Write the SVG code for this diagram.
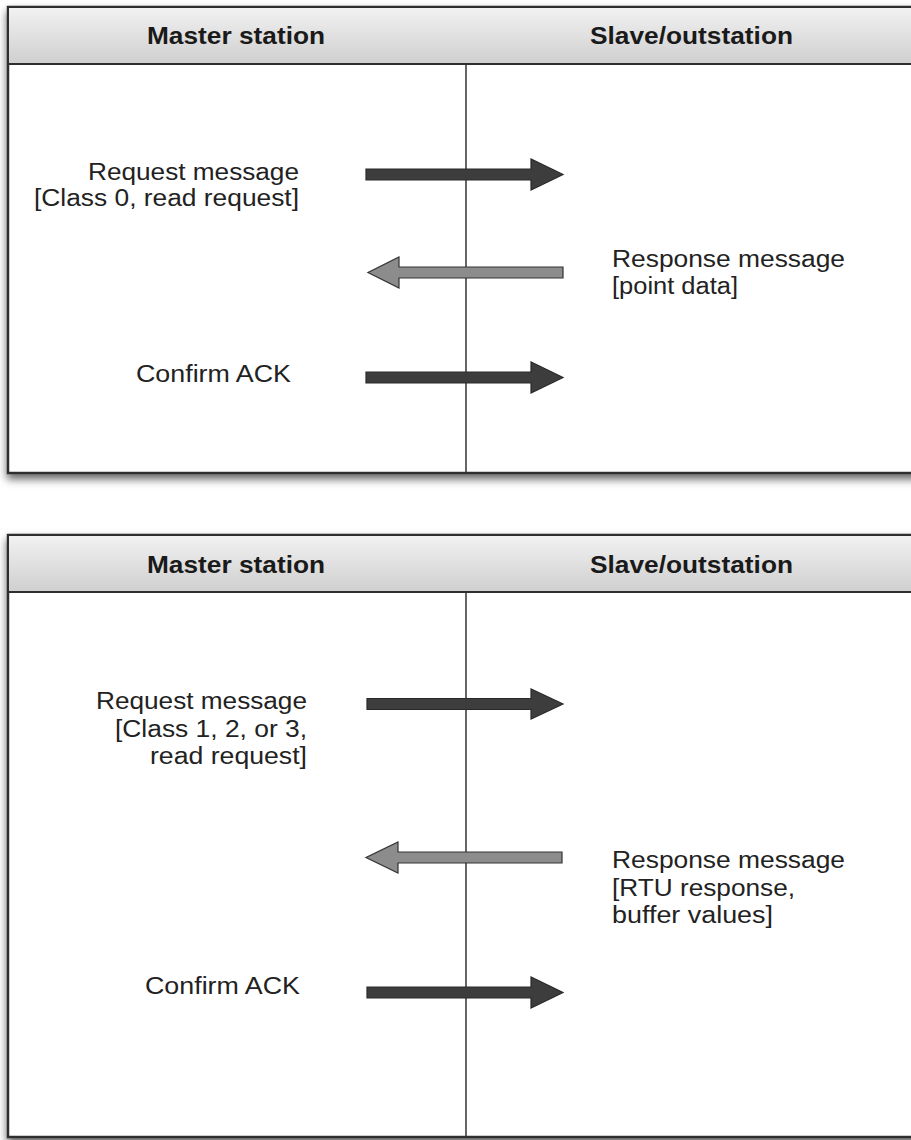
<svg xmlns="http://www.w3.org/2000/svg" width="911" height="1140" viewBox="0 0 911 1140">
<style>
.box{fill:#fff;stroke:#2e2e2e;stroke-width:2.5}
.hdr{fill:url(#hg);stroke:#2e2e2e;stroke-width:2}
.div{stroke:#333;stroke-width:1.5}
.ht{font-family:"Liberation Sans",Arial,sans-serif;font-weight:bold;font-size:24px;fill:#1a1a1a}
.t{font-family:"Liberation Sans",Arial,sans-serif;font-size:23px;fill:#222}
.dark{fill:#3d3d3d;stroke:#2a2a2a;stroke-width:1.2}
.light{fill:#8c8c8c;stroke:#333;stroke-width:1.2}
</style>
<defs>
<linearGradient id="hg" x1="0" y1="0" x2="0" y2="1">
<stop offset="0" stop-color="#f2f2f2"/>
<stop offset="1" stop-color="#cfcfcf"/>
</linearGradient>
<filter id="sh" x="-5%" y="-5%" width="110%" height="115%">
<feDropShadow dx="0" dy="5" stdDeviation="4" flood-color="#000" flood-opacity="0.6"/>
</filter>
</defs>

<g id="panel1">
<rect class="box" x="8" y="7" width="920" height="466" filter="url(#sh)"/>
<rect class="hdr" x="8" y="7" width="920" height="57"/>
<line class="div" x1="466" y1="64" x2="466" y2="472"/>
</g>
<g id="hdr1-master"><text class="ht" x="147" y="44" textLength="178" lengthAdjust="spacingAndGlyphs">Master station</text></g>
<g id="hdr1-slave"><text class="ht" x="590" y="44" textLength="203" lengthAdjust="spacingAndGlyphs">Slave/outstation</text></g>

<g id="panel2">
<rect class="box" x="8" y="535" width="920" height="602" filter="url(#sh)"/>
<rect class="hdr" x="8" y="535" width="920" height="57"/>
<line class="div" x1="466" y1="592" x2="466" y2="1137"/>
</g>
<g id="hdr2-master"><text class="ht" x="147" y="573" textLength="178" lengthAdjust="spacingAndGlyphs">Master station</text></g>
<g id="hdr2-slave"><text class="ht" x="590" y="573" textLength="203" lengthAdjust="spacingAndGlyphs">Slave/outstation</text></g>

<g id="labels1">
<text class="t" x="88" y="180" textLength="211" lengthAdjust="spacingAndGlyphs">Request message</text>
<text class="t" x="34" y="206" textLength="265" lengthAdjust="spacingAndGlyphs">[Class 0, read request]</text>
<text class="t" x="612" y="267" textLength="233" lengthAdjust="spacingAndGlyphs">Response message</text>
<text class="t" x="612" y="294" textLength="126" lengthAdjust="spacingAndGlyphs">[point data]</text>
<text class="t" x="136" y="382" textLength="155" lengthAdjust="spacingAndGlyphs">Confirm ACK</text>
</g>

<g id="labels2">
<text class="t" x="96" y="709" textLength="211" lengthAdjust="spacingAndGlyphs">Request message</text>
<text class="t" x="115" y="737" textLength="192" lengthAdjust="spacingAndGlyphs">[Class 1, 2, or 3,</text>
<text class="t" x="150" y="764" textLength="157" lengthAdjust="spacingAndGlyphs">read request]</text>
<text class="t" x="612" y="868" textLength="233" lengthAdjust="spacingAndGlyphs">Response message</text>
<text class="t" x="612" y="896" textLength="183" lengthAdjust="spacingAndGlyphs">[RTU response,</text>
<text class="t" x="612" y="923" textLength="161" lengthAdjust="spacingAndGlyphs">buffer values]</text>
<text class="t" x="145" y="994" textLength="155" lengthAdjust="spacingAndGlyphs">Confirm ACK</text>
</g>

<g id="connectors">
<path class="dark" d="M366,169 H531 V159 L563,174.5 L531,190 V180 H366 Z"/>
<path class="light" d="M563,267 H399 V257 L368,272.5 L399,288 V278 H563 Z"/>
<path class="dark" d="M366,372 H531 V362 L563,377.5 L531,393 V383 H366 Z"/>
<path class="dark" d="M367,698.5 H531 V689 L563,704 L531,719 V709.5 H367 Z"/>
<path class="light" d="M562,852 H398 V842 L366,857.5 L398,873 V863 H562 Z"/>
<path class="dark" d="M367,987 H531 V977 L563,992.5 L531,1008 V998 H367 Z"/>
</g>
</svg>
